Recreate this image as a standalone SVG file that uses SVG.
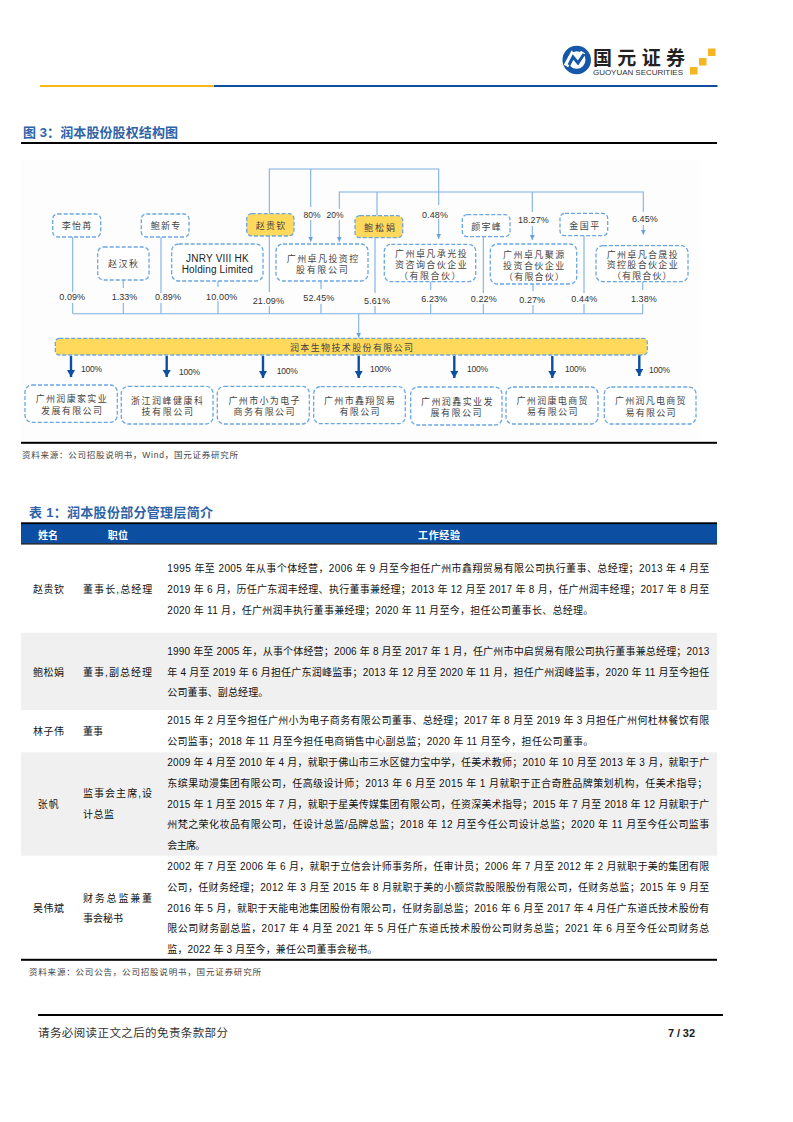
<svg xmlns="http://www.w3.org/2000/svg" width="793" height="1122" viewBox="0 0 793 1122">
<style>
text{font-family:"Liberation Sans","Noto Sans CJK SC",sans-serif;fill:#1a1a1a}
.b{fill:#fff;stroke:#6aa6e2;stroke-width:1.3;stroke-dasharray:4 2}
.y{fill:#ffd95c;stroke:#6aa6e2;stroke-width:1.3;stroke-dasharray:4 2}
.n{font-size:9px;fill:#444}
.p{font-size:9px;fill:#333}
.q{font-size:8.500px;fill:#333}
.k{fill:none;stroke:#7fb0e4;stroke-width:1.1}
.d{fill:none;stroke:#0b4ea2;stroke-width:2.4;marker-end:url(#big)}
.a{marker-end:url(#small)}
.t{font-size:10px;fill:#111}
.h{font-size:10px;font-weight:700;fill:#fff}
.c{font-size:13px;font-weight:700;fill:#2e63a8}
.s{font-size:8.500px;fill:#444}
.r{fill:#000}
</style>
<defs>
<marker id="small" markerUnits="userSpaceOnUse" markerWidth="6" markerHeight="6" refX="5" refY="2.500" orient="auto"><path d="M0 0L5 2.500L0 5z" fill="#6aa0dc"/></marker>
<marker id="big" markerUnits="userSpaceOnUse" markerWidth="8" markerHeight="9" refX="7" refY="4" orient="auto"><path d="M0 0L7 4L0 8z" fill="#0b4ea2"/></marker>
</defs>
<rect width="793" height="1122" fill="#fff"/>

<g id="header">
<circle cx="576.700" cy="60" r="11.500" fill="none" stroke="#1557a8" stroke-width="5.500"/>
<path d="M566 66L572 55L577 62L583 52" fill="none" stroke="#fff" stroke-width="5"/>
<path d="M569 65L573 57L578 63L584 54" fill="none" stroke="#1557a8" stroke-width="3"/>
<text x="593" y="64.500" font-size="19" font-weight="700" textLength="92" style="fill:#222">国元证券</text>
<text x="593" y="74.500" font-size="8" textLength="90" style="fill:#333">GUOYUAN SECURITIES</text>
<rect x="708" y="48.500" width="7.500" height="7.500" fill="#f5b520"/>
<rect x="699" y="58" width="7.500" height="7.500" fill="#f5b520"/>
<rect x="690" y="67" width="7.500" height="7.500" fill="#f5b520"/>
<rect x="40" y="85" width="174" height="2" fill="#fdb913"/>
<rect x="214" y="85" width="503.500" height="2" fill="#0b4ea2"/>
</g>

<text class="c" x="23" y="137" textLength="155">图 3：润本股份股权结构图</text>
<rect class="r" x="21" y="142" width="696" height="2"/>
<rect x="21" y="160" width="680" height="280" fill="#fdfdfd"/>

<g id="connectors">
<path class="k" d="M269.300 213.700V169H438.700V205"/>
<path class="k a" d="M438.700 219V238.700"/>
<path class="k" d="M310.700 169V207"/>
<path class="k a" d="M310.700 220V241.700"/>
<path class="k" d="M339.300 209V192H643.300V211.700"/>
<path class="k a" d="M339.300 220V241.700"/>
<path class="k" d="M377 192V215.700"/>
<path class="k" d="M532.300 192V212"/>
<path class="k a" d="M532.300 226V240"/>
<path class="k a" d="M643.300 225V234.700"/>
<path class="k" d="M72.700 237V292M72.700 303V313.700M123.300 280V288M123.300 303V313.700M161 237V293M161 303V313.700M218 281V287M218 301V313.700M269.300 236V292M269.300 306V313.700M321 281V289M321 304V313.700M375 237V293M375 306V313.700M430.700 282V290M430.700 304V313.700M483.300 237V293M483.300 304V313.700M533 284V291M533 305V313.700M584 236V293M584 304V313.700M642.700 282V290M642.700 304V313.700M72.700 313.700H642.700"/>
<path class="k a" d="M358.700 313.700V337.700"/>
<path class="d" d="M71 356V377"/>
<path class="d" d="M166.700 356V377"/>
<path class="d" d="M263 356V378"/>
<path class="d" d="M358.700 356V378"/>
<path class="d" d="M454.300 356V378"/>
<path class="d" d="M552.300 356V378"/>
<path class="d" d="M639.300 355V376"/>
</g>

<g id="n-liyiran"><rect class="b" x="52.700" y="214" width="48" height="23" rx="5"/><text class="n" x="61.700" y="229" textLength="29.500">李怡苒</text></g>
<g id="n-zhaohanqiu"><rect class="b" x="97.700" y="247" width="51.300" height="33" rx="6"/><text class="n" x="108" y="267" textLength="30">赵汉秋</text></g>
<g id="n-baoxinzhuan"><rect class="b" x="141.300" y="214" width="47.700" height="23" rx="5"/><text class="n" x="150.700" y="229" textLength="29.500">鲍新专</text></g>
<g id="n-jnry"><rect class="b" x="171.700" y="244" width="91.300" height="37" rx="7"/><text x="186" y="262" font-size="10" textLength="62.700" style="fill:#222">JNRY VIII HK</text><text x="181.700" y="272.500" font-size="10" textLength="71" style="fill:#222">Holding Limited</text></g>
<g id="n-zhaoguiqin"><rect class="y" x="246.700" y="213.700" width="47.300" height="22.300" rx="5"/><text class="n" x="255.700" y="229" textLength="29.500">赵贵钦</text></g>
<g id="n-zhuofan-holding"><rect class="b" x="276" y="244" width="92" height="37" rx="7"/><text class="n" x="286.700" y="261.500" textLength="71.600">广州卓凡投资控</text><text class="n" x="296" y="273" textLength="51.700">股有限公司</text></g>
<g id="n-baosongjuan"><rect class="y" x="355" y="215.700" width="47.700" height="22" rx="5"/><text class="n" x="364" y="230.500" textLength="31">鲍松娟</text></g>
<g id="n-chengguang"><rect class="b" x="384.300" y="244.300" width="91.400" height="37.400" rx="7"/><text class="n" x="395" y="256.500" textLength="71.700">广州卓凡承光投</text><text class="n" x="395" y="268" textLength="71.700">资咨询合伙企业</text><text class="n" x="399" y="278.500" textLength="61.500">（有限合伙）</text></g>
<g id="n-yanyufeng"><rect class="b" x="462.300" y="214.700" width="47.700" height="22" rx="5"/><text class="n" x="471.300" y="230" textLength="29.400">颜宇峰</text></g>
<g id="n-juyuan"><rect class="b" x="490.300" y="244" width="86.400" height="40" rx="7"/><text class="n" x="503" y="258" textLength="61.300">广州卓凡聚源</text><text class="n" x="503" y="268.500" textLength="61.300">投资合伙企业</text><text class="n" x="504" y="279.500" textLength="60">（有限合伙）</text></g>
<g id="n-jinguoping"><rect class="b" x="560" y="213.300" width="47.700" height="22.400" rx="5"/><text class="n" x="569.300" y="229" textLength="30">金国平</text></g>
<g id="n-hesheng"><rect class="b" x="596" y="245.700" width="92" height="36" rx="7"/><text class="n" x="606.700" y="257.500" textLength="71">广州卓凡合晟投</text><text class="n" x="606.700" y="268" textLength="71">资控股合伙企业</text><text class="n" x="612" y="279" textLength="59.500">（有限合伙）</text></g>

<g id="percent-labels">
<text class="p" x="59.300" y="300.300" textLength="25.700">0.09%</text>
<text class="p" x="111.700" y="300.300" textLength="25.600">1.33%</text>
<text class="p" x="155" y="300.300" textLength="26">0.89%</text>
<text class="p" x="206" y="299.500" textLength="31.300">10.00%</text>
<text class="p" x="252.700" y="303.500" textLength="31.300">21.09%</text>
<text class="p" x="303.300" y="301" textLength="31">52.45%</text>
<text class="p" x="364" y="303.500" textLength="26">5.61%</text>
<text class="p" x="421.300" y="301.500" textLength="25.700">6.23%</text>
<text class="p" x="470.700" y="301.500" textLength="26">0.22%</text>
<text class="p" x="519.300" y="303" textLength="25.700">0.27%</text>
<text class="p" x="571.300" y="302" textLength="26">0.44%</text>
<text class="p" x="631" y="301.500" textLength="25.700">1.38%</text>
<text class="q" x="303.500" y="217.500">80%</text>
<text class="q" x="326.500" y="217.500">20%</text>
<text class="p" x="422" y="217.500" textLength="26">0.48%</text>
<text class="p" x="518" y="222.500" textLength="30.700">18.27%</text>
<text class="p" x="632" y="221.500" textLength="25.700">6.45%</text>
<text class="q" x="81" y="372" textLength="21">100%</text>
<text class="q" x="179" y="375" textLength="21">100%</text>
<text class="q" x="276.700" y="374" textLength="21">100%</text>
<text class="q" x="370" y="372" textLength="21">100%</text>
<text class="q" x="467" y="372" textLength="21">100%</text>
<text class="q" x="565" y="372" textLength="21">100%</text>
<text class="q" x="649" y="373" textLength="21">100%</text>
</g>

<g id="n-runben"><rect class="y" x="55.300" y="338.300" width="592" height="16.700" rx="4"/><text class="n" x="290" y="351" textLength="123">润本生物技术股份有限公司</text></g>
<g id="n-sub1"><rect class="b" x="25" y="385" width="92.300" height="37.300" rx="7"/><text class="n" x="35.700" y="402" textLength="71">广州润康家实业</text><text class="n" x="41" y="413.500" textLength="61">发展有限公司</text></g>
<g id="n-sub2"><rect class="b" x="121.300" y="386.300" width="91.700" height="37.700" rx="7"/><text class="n" x="131" y="403.500" textLength="72">浙江润峰健康科</text><text class="n" x="141.500" y="415" textLength="51.500">技有限公司</text></g>
<g id="n-sub3"><rect class="b" x="217.300" y="386.300" width="92" height="37.700" rx="7"/><text class="n" x="228.500" y="404" textLength="71">广州市小为电子</text><text class="n" x="233.500" y="415" textLength="61">商务有限公司</text></g>
<g id="n-sub4"><rect class="b" x="313.700" y="386.700" width="91.600" height="37" rx="7"/><text class="n" x="324" y="404" textLength="71">广州市鑫翔贸易</text><text class="n" x="339.500" y="415" textLength="40">有限公司</text></g>
<g id="n-sub5"><rect class="b" x="410.700" y="387" width="91.300" height="38" rx="7"/><text class="n" x="421" y="405" textLength="71.500">广州润鑫实业发</text><text class="n" x="430.500" y="416" textLength="51">展有限公司</text></g>
<g id="n-sub6"><rect class="b" x="506" y="387" width="92" height="37" rx="7"/><text class="n" x="516.500" y="404" textLength="71">广州润康电商贸</text><text class="n" x="527" y="415" textLength="50.500">易有限公司</text></g>
<g id="n-sub7"><rect class="b" x="604.300" y="387" width="91.700" height="37" rx="7"/><text class="n" x="615" y="404" textLength="70.500">广州润凡电商贸</text><text class="n" x="625.500" y="416" textLength="50">易有限公司</text></g>

<rect class="r" x="21" y="441.800" width="696" height="2"/>
<text class="s" x="22" y="458" textLength="216">资料来源：公司招股说明书，Wind，国元证券研究所</text>

<text class="c" x="29" y="517" textLength="184">表 1：润本股份部分管理层简介</text>
<g id="table">
<rect x="21" y="524" width="696" height="19.500" fill="#0b4ea2"/>
<rect class="r" x="21" y="522.300" width="696" height="1.800"/>
<rect class="r" x="21" y="543.300" width="696" height="1.200"/>
<rect x="21" y="632.700" width="696" height="77.300" fill="#f0f0f0"/>
<rect x="21" y="752.300" width="696" height="103.400" fill="#f0f0f0"/>
<rect class="r" x="21" y="958.800" width="696" height="2"/>
<text class="h" x="38" y="538.500" textLength="20">姓名</text>
<text class="h" x="107.700" y="538.500" textLength="20.300">职位</text>
<text class="h" x="418" y="538.500" textLength="42">工作经验</text>

<text class="t" x="33" y="592.500" textLength="31">赵贵钦</text>
<text class="t" x="83" y="592.500" textLength="69.300">董事长,总经理</text>
<text class="t" x="167.300" y="572" textLength="542">1995 年至 2005 年从事个体经营，2006 年 9 月至今担任广州市鑫翔贸易有限公司执行董事、总经理；2013 年 4 月至</text>
<text class="t" x="167.300" y="593" textLength="542">2019 年 6 月，历任广东润丰经理、执行董事兼经理；2013 年 12 月至 2017 年 8 月，任广州润丰经理；2017 年 8 月至</text>
<text class="t" x="167.300" y="614" textLength="426">2020 年 11 月，任广州润丰执行董事兼经理；2020 年 11 月至今，担任公司董事长、总经理。</text>

<text class="t" x="33" y="675.500" textLength="31">鲍松娟</text>
<text class="t" x="83" y="675.500" textLength="69">董事,副总经理</text>
<text class="t" x="167.300" y="654.500" textLength="542">1990 年至 2005 年，从事个体经营；2006 年 8 月至 2017 年 1 月，任广州市中启贸易有限公司执行董事兼总经理；2013</text>
<text class="t" x="167.300" y="675.500" textLength="542">年 4 月至 2019 年 6 月担任广东润峰监事；2013 年 12 月至 2020 年 11 月，担任广州润峰监事，2020 年 11 月至今担任</text>
<text class="t" x="167.300" y="696" textLength="101">公司董事、副总经理。</text>

<text class="t" x="33" y="734.500" textLength="31">林子伟</text>
<text class="t" x="83" y="734.500" textLength="20">董事</text>
<text class="t" x="167.300" y="723.500" textLength="542">2015 年 2 月至今担任广州小为电子商务有限公司董事、总经理；2017 年 8 月至 2019 年 3 月担任广州何杜林餐饮有限</text>
<text class="t" x="167.300" y="744.500" textLength="426">公司监事；2018 年 11 月至今担任电商销售中心副总监；2020 年 11 月至今，担任公司董事。</text>

<text class="t" x="37.700" y="807.500" textLength="21">张帆</text>
<text class="t" x="83" y="796.500" textLength="69">监事会主席,设</text>
<text class="t" x="83" y="817.500" textLength="31">计总监</text>
<text class="t" x="167.300" y="765.800" textLength="542">2009 年 4 月至 2010 年 4 月，就职于佛山市三水区健力宝中学，任美术教师；2010 年 10 月至 2013 年 3 月，就职于广</text>
<text class="t" x="167.300" y="786.800" textLength="540">东缤果动漫集团有限公司，任高级设计师；2013 年 6 月至 2015 年 1 月就职于正合奇胜品牌策划机构，任美术指导；</text>
<text class="t" x="167.300" y="807.800" textLength="542">2015 年 1 月至 2015 年 7 月，就职于星美传媒集团有限公司，任资深美术指导；2015 年 7 月至 2018 年 12 月就职于广</text>
<text class="t" x="167.300" y="827.800" textLength="542">州梵之荣化妆品有限公司，任设计总监/品牌总监；2018 年 12 月至今任公司设计总监；2020 年 11 月至今任公司监事</text>
<text class="t" x="167.300" y="848.800" textLength="38">会主席。</text>

<text class="t" x="33" y="911.500" textLength="31">吴伟斌</text>
<text class="t" x="83" y="901.500" textLength="69">财务总监兼董</text>
<text class="t" x="83" y="921.500" textLength="40">事会秘书</text>
<text class="t" x="167.300" y="869.500" textLength="542">2002 年 7 月至 2006 年 6 月，就职于立信会计师事务所，任审计员；2006 年 7 月至 2012 年 2 月就职于美的集团有限</text>
<text class="t" x="167.300" y="890.500" textLength="542">公司，任财务经理；2012 年 3 月至 2015 年 8 月就职于美的小额贷款股限股份有限公司，任财务总监；2015 年 9 月至</text>
<text class="t" x="167.300" y="911.800" textLength="542">2016 年 5 月，就职于天能电池集团股份有限公司，任财务副总监；2016 年 6 月至 2017 年 4 月任广东道氏技术股份有</text>
<text class="t" x="167.300" y="931.800" textLength="542">限公司财务副总监，2017 年 4 月至 2021 年 5 月任广东道氏技术股份公司财务总监；2021 年 6 月至今任公司财务总</text>
<text class="t" x="167.300" y="952.800" textLength="210">监，2022 年 3 月至今，兼任公司董事会秘书。</text>
</g>
<text class="s" x="29" y="975" textLength="232">资料来源：公司公告，公司招股说明书，国元证券研究所</text>

<g id="footer">
<rect class="r" x="38" y="1014" width="685" height="2"/>
<text x="38" y="1037" font-size="11.500" textLength="190" style="fill:#333">请务必阅读正文之后的免责条款部分</text>
<text x="668" y="1037" font-size="11" font-weight="700" textLength="27">7 / 32</text>
</g>
</svg>
